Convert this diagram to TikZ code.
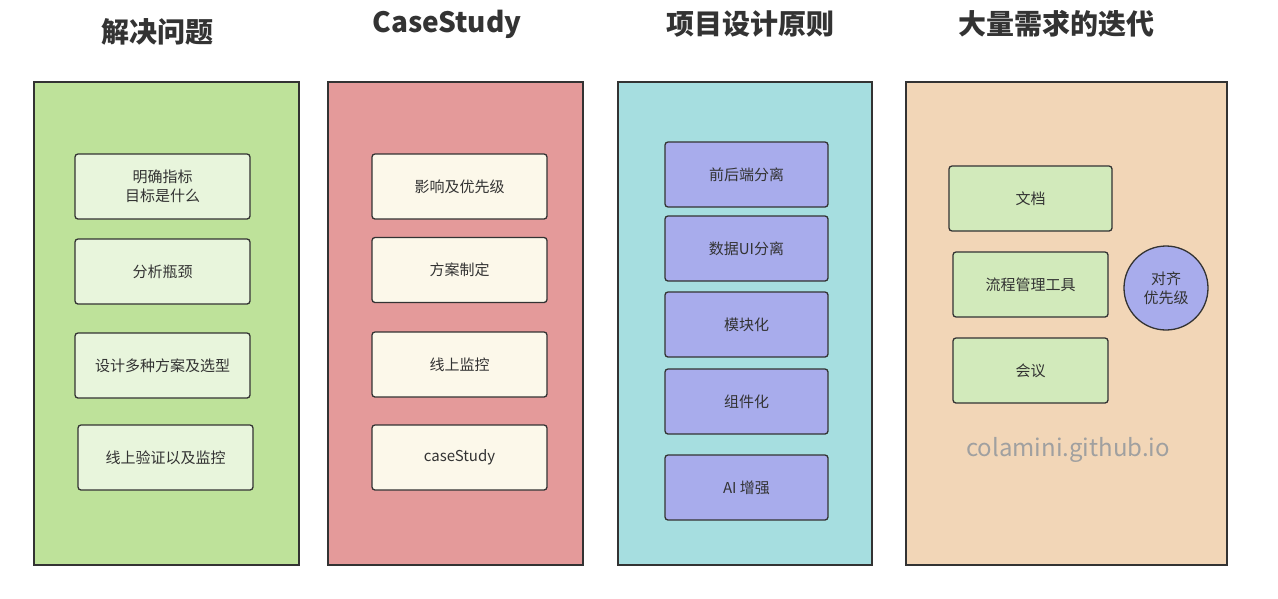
\documentclass[tikz,border=0pt]{standalone}
\usepackage{fontspec}
\setmainfont{Noto Sans CJK SC}
\usetikzlibrary{positioning}
\definecolor{edgegray}{HTML}{333333}
\definecolor{panelgreen}{HTML}{BEE29A}
\definecolor{panelred}{HTML}{E49A9A}
\definecolor{panelcyan}{HTML}{A6DEE0}
\definecolor{panelorange}{HTML}{F2D6B7}
\definecolor{itemgreen}{HTML}{E8F5DC}
\definecolor{itemcream}{HTML}{FCF8EA}
\definecolor{itempurple}{HTML}{A8ACEC}
\definecolor{itemlime}{HTML}{D2EABB}
\definecolor{marktext}{HTML}{A0A0A0}
\tikzset{
  panel/.style={draw=edgegray, line width=1.5pt, anchor=north west, inner sep=0pt},
  item/.style={draw=edgegray, line width=1.3pt, rounded corners=3pt, minimum width=175pt, minimum height=65pt, inner sep=0pt, align=center, font=\fontsize{15}{19}\selectfont, text=edgegray},
  title/.style={font=\fontsize{28}{32}\selectfont\bfseries, text=edgegray, inner sep=0pt}
}
\begin{document}
\begin{tikzpicture}[x=1pt,y=1pt,yscale=-1]
  \useasboundingbox (0,0) rectangle (1278,598);

  %Titles
  \node[title] (t1) at (157,32) {解决问题};
  \node[title] (t2) at (447,24) {CaseStudy};
  \node[title] (t3) at (750,24) {项目设计原则};
  \node[title] (t4) at (1056,24) {大量需求的迭代};

  %Shape: Rectangle panels
  \node[panel, fill=panelgreen, minimum width=265pt, minimum height=483pt] (p1) at (33,81) {};
  \node[panel, fill=panelred, minimum width=255pt, minimum height=483pt] (p2) at (327,81) {};
  \node[panel, fill=panelcyan, minimum width=254pt, minimum height=483pt] (p3) at (617,81) {};
  \node[panel, fill=panelorange, minimum width=321pt, minimum height=483pt] (p4) at (905,81) {};

  %解决问题
  \node[item, fill=itemgreen] (g1) at (162.5,186.5) {明确指标\\目标是什么};
  \node[item, fill=itemgreen] (g2) at (162.5,271.5) {分析瓶颈};
  \node[item, fill=itemgreen] (g3) at (162.5,365.5) {设计多种方案及选型};
  \node[item, fill=itemgreen] (g4) at (165.5,457.5) {线上验证以及监控};

  %CaseStudy
  \node[item, fill=itemcream] (r1) at (459.5,186.5) {影响及优先级};
  \node[item, fill=itemcream] (r2) at (459.5,270) {方案制定};
  \node[item, fill=itemcream] (r3) at (459.5,364.5) {线上监控};
  \node[item, fill=itemcream] (r4) at (459.5,457.5) {caseStudy};

  %项目设计原则
  \node[item, fill=itempurple, minimum width=163pt] (c1) at (746.5,174.5) {前后端分离};
  \node[item, fill=itempurple, minimum width=163pt] (c2) at (746.5,248.5) {数据UI分离};
  \node[item, fill=itempurple, minimum width=163pt] (c3) at (746.5,324.5) {模块化};
  \node[item, fill=itempurple, minimum width=163pt] (c4) at (746.5,401.5) {组件化};
  \node[item, fill=itempurple, minimum width=163pt] (c5) at (746.5,487.5) {AI 增强};

  %大量需求的迭代
  \node[item, fill=itemlime, minimum width=163pt] (o1) at (1030.5,198.5) {文档};
  \node[item, fill=itemlime, minimum width=155pt] (o2) at (1030.5,284.5) {流程管理工具};
  \node[item, fill=itemlime, minimum width=155pt] (o3) at (1030.5,370.5) {会议};
  \node[item, fill=itempurple, circle, minimum width=84pt, minimum height=84pt] (o4) at (1166,288) {对齐\\优先级};

  % Text Node
  \node[text=marktext, font=\fontsize{24}{28}\selectfont, inner sep=0pt] (mark) at (1068,450) {colamini.github.io};
\end{tikzpicture}
\end{document}
